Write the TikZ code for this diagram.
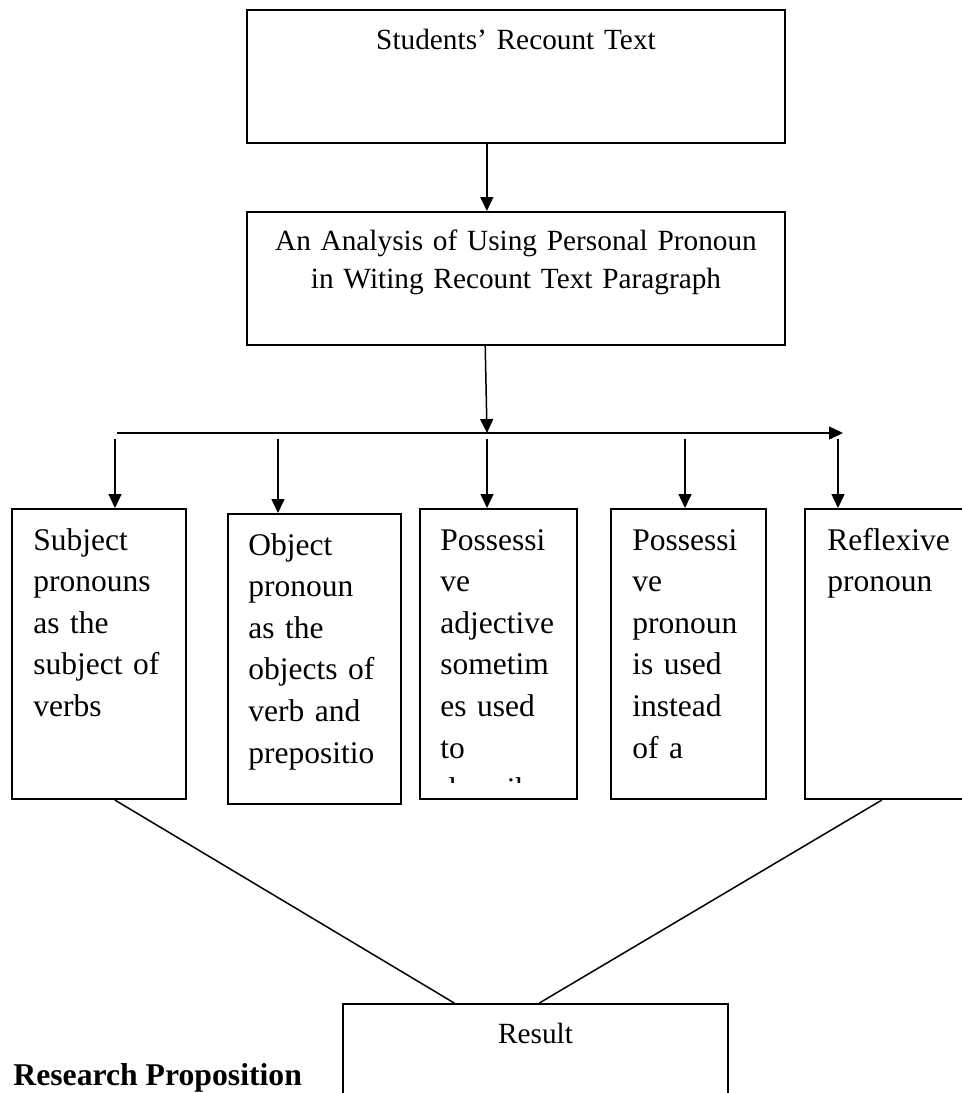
\documentclass[tikz,border=0pt]{standalone}
\usepackage{fontspec}
\setmainfont{Liberation Serif}
\usetikzlibrary{arrows.meta,calc,positioning}

\begin{document}
\begin{tikzpicture}[x=0.5pt,y=-0.5pt,>={Triangle[width=6.5pt,length=7pt]},
    box/.style={draw,line width=1pt,inner sep=0pt,minimum height=145pt},
    head/.style={font=\fontsize{14.65}{19}\selectfont,inner sep=0pt,text width=260pt,align=center,anchor=base},
    item/.style={font=\fontsize{15.75}{20.8}\selectfont,inner sep=0pt,text width=80pt,align=left,anchor=base west},
    link/.style={line width=0.75pt}]

	\useasboundingbox (0,0) rectangle (962,1093);
	\clip (0,0) rectangle (962,1093);

    % The top boxes
	\node [box,minimum width=269pt,minimum height=66.5pt] at (516,76.5) (rec) {};
	\node [head] at (516,49) (recT) {Students’ Recount Text};

	\node [box,minimum width=269pt,minimum height=66.5pt] at (516,278.5) (anal) {};
	\node [head] at (516,250) (analT) {An Analysis of Using Personal Pronoun\\in Witing Recount Text Paragraph};

    % The pronoun boxes
	\node [box,minimum width=87pt] at (99,654) (subj) {};
	\node [item] at (33,550) (subjT) {Subject\\pronouns\\as the\\subject of\\verbs};

	\node [box,minimum width=86.5pt] at (314.5,659) (obj) {};
	\node [item] at (248,555) (objT) {Object\\pronoun\\as the\\objects of\\verb and\\prepositio};

	\node [box,minimum width=78.5pt] at (498.5,654) (posadj) {};
	\begin{scope}
	\clip (420,509) rectangle (577,782);
	\node [item] at (440,550) (posadjT) {Possessi\\ve\\adjective\\sometim\\es used\\to\\describe};
	\end{scope}

	\node [box,minimum width=77.5pt] at (688.5,654) (pospro) {};
	\node [item] at (632,550) (posproT) {Possessi\\ve\\pronoun\\is used\\instead\\of a};

	\node [box,minimum width=87.5pt] at (892.5,654) (refl) {};
	\node [item] at (827,550) (reflT) {Reflexive\\pronoun};

    % The result
	\node [box,minimum width=192.5pt,minimum height=63pt] at (535.5,1067) (res) {};
	\node [head] at (535.5,1043) (resT) {Result};
	\node [font=\bfseries\fontsize{15.85}{19}\selectfont,inner sep=0pt,anchor=base west] at (13,1085) (prop) {Research Proposition};

    % Branch points
	\coordinate (recB) at ($(rec.south west)!0.446!(rec.south east)$);
	\coordinate (analB) at ($(anal.south west)!0.443!(anal.south east)$);
	\coordinate (hl) at (117,433);
	\coordinate (hm) at (487,433);
	\coordinate (hr) at (843,433);
	\coordinate (d1) at (115,439);
	\coordinate (d2) at (278,439);
	\coordinate (d3) at (487,439);
	\coordinate (d4) at (685,439);
	\coordinate (d5) at (838,439);
	\coordinate (subjB) at ($(subj.south west)!0.59!(subj.south east)$);
	\coordinate (reflB) at ($(refl.south west)!0.44!(refl.south east)$);
	\coordinate (resL) at ($(res.north west)!0.29!(res.north east)$);
	\coordinate (resR) at ($(res.north west)!0.51!(res.north east)$);

    % Box edges
	\draw[->,link] (recB) -- (recB |- anal.north);
	\draw[->,link] (analB) -- (hm);
	\draw[->,link] (hl) -- (hr);
	\draw[->,link] (d1) -- (d1 |- subj.north);
	\draw[->,link] (d2) -- (d2 |- obj.north);
	\draw[->,link] (d3) -- (d3 |- posadj.north);
	\draw[->,link] (d4) -- (d4 |- pospro.north);
	\draw[->,link] (d5) -- (d5 |- refl.north);
	\draw[link] (subjB) -- (resL);
	\draw[link] (reflB) -- (resR);

\end{tikzpicture}
\end{document}
